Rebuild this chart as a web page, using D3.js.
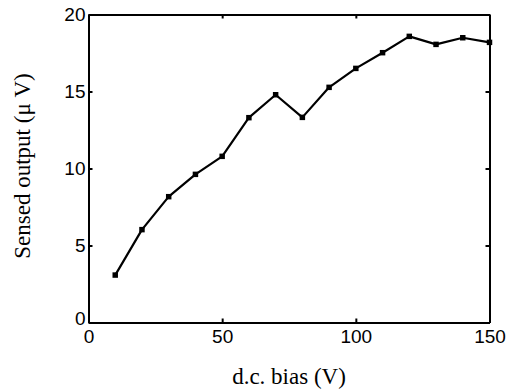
<!DOCTYPE html>
<html lang="en">
<head>
<meta charset="UTF-8">
<title>Sensed output vs d.c. bias</title>
<script src="https://d3js.org/d3.v7.min.js"></script>
<style>
    body { margin: 0; background: white; }
    svg { display: block; }
    .tick text { font-family: "Liberation Sans", Arial, sans-serif; font-size: 19px; fill: black; }
    .axis path, .axis line { stroke: black; stroke-width: 2; }
    .label { font-family: "Liberation Serif", "Times New Roman", serif; font-size: 23px; fill: black; }
</style>
</head>
<body>
<svg width="509" height="392"></svg>
<script>
    const bias = [10, 20, 30, 40, 50, 60, 70, 80, 90, 100, 110, 120, 130, 140, 150];
    const output = [3.08, 6.03, 8.17, 9.62, 10.79, 13.3, 14.79, 13.32, 15.27, 16.5, 17.52, 18.58, 18.06, 18.49, 18.19];
    const xTicks = [0, 50, 100, 150];
    const yTicks = [0, 5, 10, 15, 20];

    const data = bias.map((b, i) => ({ x: b, y: output[i] }));

    const margin = { top: 14.5, right: 19.5, bottom: 69.5, left: 88.5 };
    const width = 509 - margin.left - margin.right;
    const height = 392 - margin.top - margin.bottom;

    const svg = d3.select("svg");
    const g = svg.append("g").attr("transform", `translate(${margin.left},${margin.top})`);

    const x = d3.scaleLinear().domain([0, 150]).range([0, width]);
    const y = d3.scaleLinear().domain([0, 20]).range([height, 0]);

    // axes, ticks point inward like matlab
    g.append("g").attr("class", "axis")
        .attr("transform", `translate(0,${height})`)
        .call(d3.axisBottom(x).tickValues(xTicks).tickSizeInner(-4).tickSizeOuter(0).tickPadding(7));
    g.append("g").attr("class", "axis")
        .call(d3.axisLeft(y).tickValues(yTicks).tickSizeInner(-4).tickSizeOuter(0).tickPadding(3));
    g.append("g").attr("class", "axis")
        .call(d3.axisTop(x).tickValues(xTicks).tickSizeInner(-4).tickSizeOuter(0).tickFormat(""));
    g.append("g").attr("class", "axis")
        .attr("transform", `translate(${width},0)`)
        .call(d3.axisRight(y).tickValues(yTicks).tickSizeInner(-4).tickSizeOuter(0).tickFormat(""));

    // nudge the two zeros apart like the original
    g.selectAll(".axis .tick text").filter(d => d === 0).each(function () {
        const t = d3.select(this);
        if (t.attr("x") !== null && +t.attr("x") < 0) t.attr("dy", "0.1em");
    });

    const line = d3.line().x(d => x(d.x)).y(d => y(d.y));
    g.append("path").datum(data)
        .attr("fill", "none").attr("stroke", "black").attr("stroke-width", 2.2)
        .attr("stroke-linejoin", "round")
        .attr("d", line);

    g.selectAll(".pt").data(data).enter()
        .append("path").attr("class", "pt")
        .attr("transform", d => `translate(${x(d.x)},${y(d.y)})`)
        .attr("d", d3.symbol().type(d3.symbolSquare).size(30))
        .attr("fill", "black");

    g.append("text").attr("class", "label")
        .attr("x", width / 2).attr("y", height + 61)
        .attr("text-anchor", "middle")
        .text("d.c. bias (V)");

    g.append("text").attr("class", "label")
        .attr("transform", `translate(${30 - margin.left},${166 - margin.top}) rotate(-90)`)
        .attr("text-anchor", "middle")
        .text("Sensed output (\u03bc V)");
</script>
</body>
</html>
